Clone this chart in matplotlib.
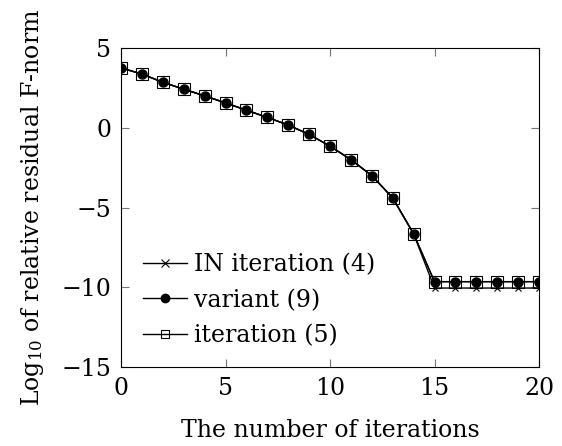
import matplotlib
matplotlib.use("Agg")
import matplotlib.pyplot as plt

iters = list(range(21))
common = [3.75, 3.37, 2.85, 2.42, 2.0, 1.56, 1.1, 0.65, 0.17, -0.42,
          -1.15, -2.0, -3.0, -4.4, -6.65]
in_iter = common + [-10.05] * 6
variant = common + [-9.65] * 6
iteration = common + [-9.65] * 6

labels = ["IN iteration (4)", "variant (9)", "iteration (5)"]

plt.rcParams['font.family'] = ['DejaVu Serif']
plt.rcParams['mathtext.fontset'] = 'dejavuserif'

FS = 17
fig = plt.figure(figsize=(5.62, 4.46), dpi=100)
L, R, T, B = 121, 539, 48, 367
ax = fig.add_axes([L / 562, (446 - B) / 446, (R - L) / 562, (B - T) / 446])

ax.plot(iters, in_iter, color='black', lw=1.0, marker='x', ms=5, mew=0.8, label=labels[0])
ax.plot(iters, variant, color='black', lw=1.0, marker='o', ms=6.5, label=labels[1])
ax.plot(iters, iteration, color='black', lw=1.0, marker='s', ms=8.5, mfc='none', mew=0.8, label=labels[2])

ax.set_xlim(0, 20)
ax.set_ylim(-15, 5)
ax.set_xticks([0, 5, 10, 15, 20])
ax.set_yticks([-15, -10, -5, 0, 5])
ax.set_yticklabels(['\u221215', '\u221210', '\u22125', '0', '5'])
ax.tick_params(direction='in', top=True, right=True, length=6, width=0.8,
               labelsize=FS, color='#777777', pad=7)
for s in ax.spines.values():
    s.set_linewidth(0.8)

ax.set_xlabel('The number of iterations', fontsize=FS, labelpad=14)
ax.set_ylabel('Log$_{10}$ of relative residual F-norm', fontsize=FS, labelpad=11)

leg = ax.legend(loc='lower left', bbox_to_anchor=(22 / (R - L), 20 / (B - T)),
                frameon=False, fontsize=FS, handlelength=1.86, handletextpad=0.3,
                labelspacing=0.52, borderaxespad=0.0, borderpad=0.0)
for h in leg.legend_handles:
    h.set_markersize(6)

fig.savefig('out.png', dpi=100)
